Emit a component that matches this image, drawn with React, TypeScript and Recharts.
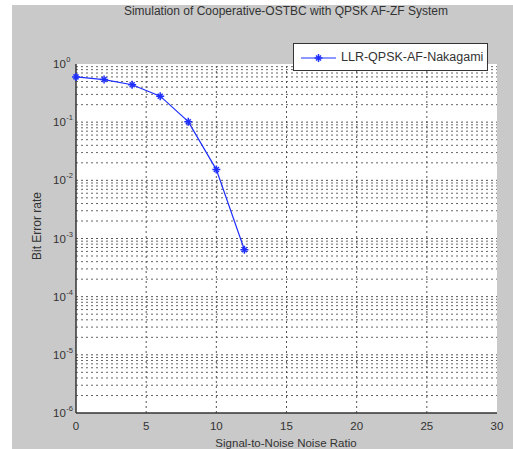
import React from 'react';
import {
  LineChart,
  Line,
  XAxis,
  YAxis,
  CartesianGrid,
  ReferenceLine,
  Legend,
} from 'recharts';

// SNR values and the measured bit error rate
const snr = [0, 2, 4, 6, 8, 10, 12];
const ber = [0.6, 0.54, 0.44, 0.28, 0.102, 0.0153, 0.00064];

const xTicks = [0, 5, 10, 15, 20, 25, 30];
const yTicks = [1e-6, 1e-5, 1e-4, 1e-3, 1e-2, 1e-1, 1];
const yExponents = ['-6', '-5', '-4', '-3', '-2', '-1', '0'];
const minorMultipliers = [2, 3, 4, 5, 6, 7, 8, 9];
const decades = [-6, -5, -4, -3, -2, -1];

const seriesName = 'LLR-QPSK-AF-Nakagami';
const FONT = '"Liberation Sans", Arial, sans-serif';
const BLUE = '#1f2fff';
const INK = '#333';

const data = snr.map((x, i) => ({ x, y: ber[i] }));

const minorValues: number[] = [];
decades.forEach((d) => {
  minorMultipliers.forEach((m) => minorValues.push(m * Math.pow(10, d)));
});

const Star = (props: any) => {
  const { cx, cy } = props;
  if (cx == null || cy == null) return null;
  const r = 4;
  return (
    <g stroke={BLUE} strokeWidth={1.5}>
      <line x1={cx - r} y1={cy} x2={cx + r} y2={cy} />
      <line x1={cx} y1={cy - r} x2={cx} y2={cy + r} />
      <line x1={cx - 2.5} y1={cy - 2.5} x2={cx + 2.5} y2={cy + 2.5} />
      <line x1={cx - 2.5} y1={cy + 2.5} x2={cx + 2.5} y2={cy - 2.5} />
    </g>
  );
};

// tick label "10" with the exponent as a superscript
const YTick = (props: any) => {
  const { y, payload } = props;
  const idx = yTicks.indexOf(payload.value);
  const exp = idx >= 0 ? yExponents[idx] : '';
  return (
    <text x={53} y={y + 4} textAnchor="start" fontFamily={FONT} fontSize={11.5} fill={INK}>
      10
      <tspan dx={0.5} dy={-6} fontSize={7.5}>
        {exp}
      </tspan>
    </text>
  );
};

const LegendBox = () => (
  <div
    style={{
      width: 193,
      height: 26,
      background: '#fff',
      border: '1px solid #333',
      position: 'relative',
      fontFamily: FONT,
      fontSize: 12.5,
      color: INK,
    }}
  >
    <svg width={50} height={26} style={{ position: 'absolute', left: 0, top: 0 }}>
      <line x1={7} y1={14} x2={42} y2={14} stroke={BLUE} strokeWidth={1.2} />
      <Star cx={24.5} cy={14} />
    </svg>
    <span style={{ position: 'absolute', left: 47, top: 6, whiteSpace: 'nowrap' }}>{seriesName}</span>
  </div>
);

export default function App() {
  return (
    <div style={{ position: 'absolute', left: 0, top: 0, width: 513, height: 449, background: '#fff' }}>
      <div style={{ position: 'absolute', left: 12, top: 5, width: 501, height: 444, background: '#c9c9c9' }} />
      <div style={{ position: 'absolute', left: 0, top: 0 }}>
        <LineChart width={513} height={449} data={data} margin={{ top: 36, right: 16, bottom: 0, left: 16 }}>
          <CartesianGrid horizontal={false} vertical={false} fill="#fff" />
          {minorValues.map((v) => (
            <ReferenceLine key={`m${v}`} y={v} stroke="#666" strokeDasharray="2 3" />
          ))}
          {yTicks.slice(1, -1).map((v) => (
            <ReferenceLine key={`M${v}`} y={v} stroke="#555" strokeDasharray="2 3" />
          ))}
          {xTicks.slice(1, -1).map((v) => (
            <ReferenceLine key={`v${v}`} x={v} stroke="#555" strokeDasharray="2 3" />
          ))}
          <XAxis
            dataKey="x"
            type="number"
            domain={[0, 30]}
            ticks={xTicks}
            height={36}
            axisLine={{ stroke: INK, strokeWidth: 1.5 }}
            tickLine={false}
            tickMargin={3}
            tick={{ fontFamily: FONT, fontSize: 11.5, fill: INK }}
          />
          <XAxis
            xAxisId="top"
            orientation="top"
            dataKey="x"
            type="number"
            domain={[0, 30]}
            height={0}
            axisLine={{ stroke: INK, strokeWidth: 1.5 }}
            tick={false}
            tickLine={false}
          />
          <YAxis
            type="number"
            scale="log"
            domain={[1e-6, 1]}
            ticks={yTicks}
            allowDataOverflow
            width={60}
            axisLine={{ stroke: INK, strokeWidth: 1.5 }}
            tickLine={false}
            tick={<YTick />}
          />
          <YAxis
            yAxisId="right"
            orientation="right"
            type="number"
            domain={[0, 1]}
            width={0}
            axisLine={{ stroke: INK, strokeWidth: 1.5 }}
            tick={false}
            tickLine={false}
          />
          <Legend
            verticalAlign="top"
            content={<LegendBox />}
            wrapperStyle={{ position: 'absolute', left: 293, top: 43, width: 195 }}
          />
          <Line
            dataKey="y"
            name={seriesName}
            stroke={BLUE}
            strokeWidth={1.2}
            dot={<Star />}
            isAnimationActive={false}
          />
          <text x={286} y={15} textAnchor="middle" fontFamily={FONT} fontSize={12} fill={INK}>
            Simulation of Cooperative-OSTBC with QPSK AF-ZF System
          </text>
          <text x={286} y={447} textAnchor="middle" fontFamily={FONT} fontSize={11.5} fill={INK}>
            Signal-to-Noise Noise Ratio
          </text>
          <text
            x={0}
            y={0}
            textAnchor="middle"
            fontFamily={FONT}
            fontSize={12}
            fill={INK}
            transform="translate(41 226) rotate(-90)"
          >
            Bit Error rate
          </text>
        </LineChart>
      </div>
    </div>
  );
}
